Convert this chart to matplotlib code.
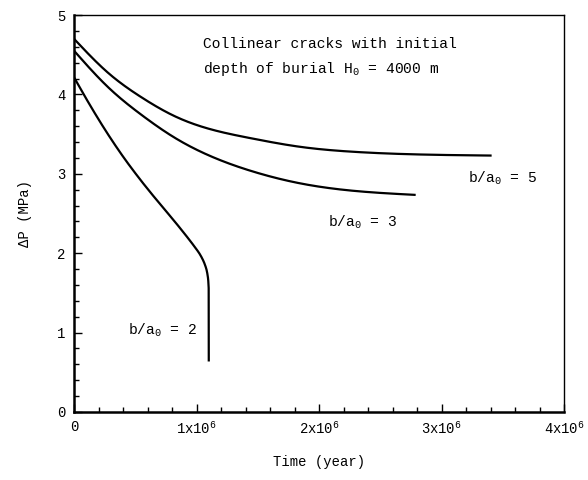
import matplotlib
matplotlib.use("Agg")
import matplotlib.pyplot as plt
from matplotlib.ticker import MultipleLocator
import numpy as np

plt.rcParams['font.family'] = ['Liberation Mono', 'DejaVu Sans']
plt.rcParams['mathtext.fontset'] = 'custom'
plt.rcParams['mathtext.rm'] = 'Liberation Mono'

# b/a0 = 5
t5 = [0.0, 0.272e6, 0.544e6, 0.816e6, 1.03e6, 1.437e6, 1.845e6, 2.253e6, 2.78e6, 3.40e6]
p5 = [4.70, 4.28, 3.97, 3.73, 3.60, 3.45, 3.34, 3.28, 3.245, 3.23]
# b/a0 = 3
t3 = [0.0, 0.272e6, 0.544e6, 0.816e6, 1.06e6, 1.437e6, 1.845e6, 2.253e6, 2.78e6]
p3 = [4.55, 4.10, 3.75, 3.46, 3.26, 3.04, 2.88, 2.79, 2.735]
# b/a0 = 2
t2 = [0.0, 0.136e6, 0.272e6, 0.408e6, 0.544e6, 0.68e6, 0.816e6, 0.90e6, 0.98e6, 1.03e6, 1.065e6, 1.085e6, 1.096e6, 1.10e6, 1.10e6]
p2 = [4.215, 3.85, 3.51, 3.20, 2.92, 2.66, 2.41, 2.25, 2.09, 1.98, 1.87, 1.77, 1.65, 1.50, 0.65]

xticks = [0, 1e6, 2e6, 3e6, 4e6]
xticklabels = ['0', r'1x10$^{6}$', r'2x10$^{6}$', r'3x10$^{6}$', r'4x10$^{6}$']
yticks = [0, 1, 2, 3, 4, 5]


def natural_spline(x, y, xn):
    x = np.asarray(x, float); y = np.asarray(y, float)
    n = len(x); h = np.diff(x)
    A = np.zeros((n, n)); r = np.zeros(n)
    A[0, 0] = 1; A[-1, -1] = 1
    for i in range(1, n - 1):
        A[i, i - 1] = h[i - 1]; A[i, i] = 2 * (h[i - 1] + h[i]); A[i, i + 1] = h[i]
        r[i] = 6 * ((y[i + 1] - y[i]) / h[i] - (y[i] - y[i - 1]) / h[i - 1])
    M = np.linalg.solve(A, r)
    idx = np.clip(np.searchsorted(x, xn) - 1, 0, n - 2)
    out = np.empty_like(xn)
    for j, (xv, k) in enumerate(zip(xn, idx)):
        a = x[k + 1] - xv; b = xv - x[k]; hk = h[k]
        out[j] = (M[k] * a**3 + M[k + 1] * b**3) / (6 * hk) + (y[k] / hk - M[k] * hk / 6) * a + (y[k + 1] / hk - M[k + 1] * hk / 6) * b
    return out


def pchip(x, y, xn):
    x = np.asarray(x, float); y = np.asarray(y, float)
    h = np.diff(x); d = np.diff(y) / h
    n = len(x)
    m = np.zeros(n)
    for k in range(1, n - 1):
        if d[k - 1] * d[k] <= 0:
            m[k] = 0.0
        else:
            w1 = 2 * h[k] + h[k - 1]; w2 = h[k] + 2 * h[k - 1]
            m[k] = (w1 + w2) / (w1 / d[k - 1] + w2 / d[k])
    m[0] = d[0]; m[-1] = d[-1]
    out = np.empty_like(xn)
    idx = np.clip(np.searchsorted(x, xn) - 1, 0, n - 2)
    for j, (xv, k) in enumerate(zip(xn, idx)):
        s = (xv - x[k]) / h[k]
        h00 = 2 * s**3 - 3 * s**2 + 1; h10 = s**3 - 2 * s**2 + s
        h01 = -2 * s**3 + 3 * s**2; h11 = s**3 - s**2
        out[j] = h00 * y[k] + h10 * h[k] * m[k] + h01 * y[k + 1] + h11 * h[k] * m[k + 1]
    return out


fig = plt.figure(figsize=(5.88, 4.80), dpi=100)
ax = fig.add_axes([0.1259, 0.1417, 0.8333, 0.827])

for t, p in [(t5, p5), (t3, p3)]:
    xn = np.linspace(t[0], t[-1], 600)
    ax.plot(xn, natural_spline(t, p, xn), color='black', lw=1.6)

# curve 2: time as a function of decreasing pressure
pr = np.array(p2[::-1]); tr = np.array(t2[::-1])
pn = np.linspace(pr[0], pr[-1], 600)
ax.plot(pchip(pr, tr, pn), pn, color='black', lw=1.6)

ax.set_xlim(0, 4e6)
ax.set_ylim(0, 5)
ax.set_xticks(xticks)
ax.set_xticklabels(xticklabels)
ax.set_yticks(yticks)
ax.xaxis.set_minor_locator(MultipleLocator(0.2e6))
ax.yaxis.set_minor_locator(MultipleLocator(0.2))
ax.tick_params(which='both', direction='in', top=False, right=False, labelsize=10, colors='black')
ax.tick_params(which='major', length=6, width=1.0, pad=6)
ax.tick_params(which='minor', length=3.5, width=1.0)
for s in ['left', 'bottom']:
    ax.spines[s].set_linewidth(1.8)
for s in ['top', 'right']:
    ax.spines[s].set_linewidth(1.0)

ax.set_xlabel('Time (year)', fontsize=10, labelpad=13)
ax.set_ylabel('ΔP (MPa)', fontsize=10, labelpad=18)

ax.text(1.05e6, 4.63, 'Collinear cracks with initial', fontsize=10.5, va='center')
ax.text(1.05e6, 4.32, r'depth of burial H$_{0}$ = 4000 m', fontsize=10.5, va='center')
ax.text(3.22e6, 2.94, r'b/a$_{0}$ = 5', fontsize=10.5, va='center')
ax.text(2.07e6, 2.39, r'b/a$_{0}$ = 3', fontsize=10.5, va='center')
ax.text(0.44e6, 1.03, r'b/a$_{0}$ = 2', fontsize=10.5, va='center')

fig.savefig('out.png', dpi=100)
